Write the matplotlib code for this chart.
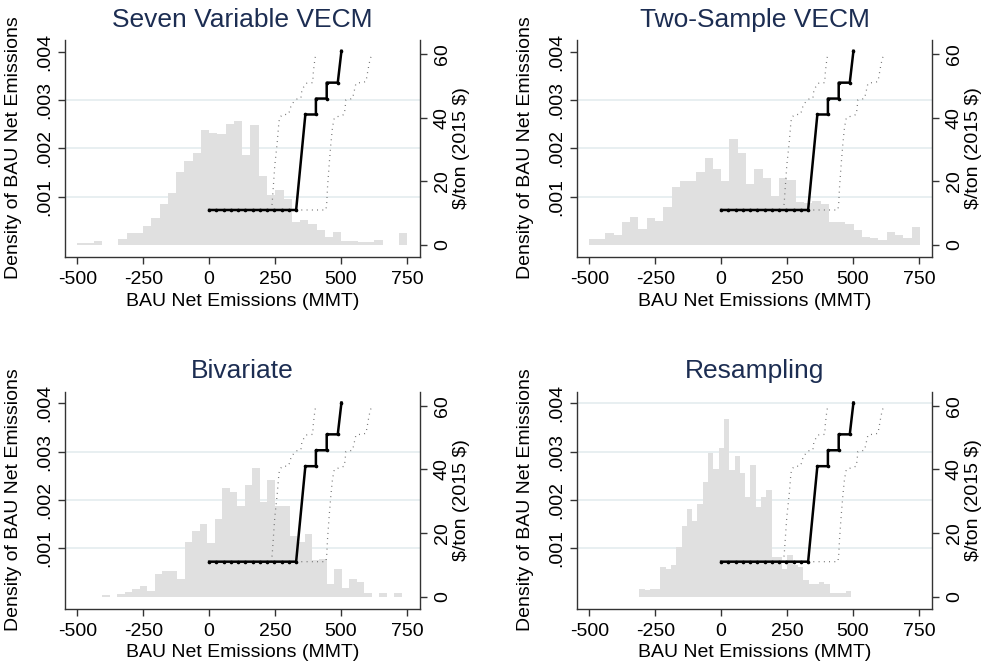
import numpy as np
import matplotlib
matplotlib.use("Agg")
import matplotlib.pyplot as plt

plt.rcParams['font.family'] = ['Liberation Sans', 'DejaVu Sans']

# ---------------- data ----------------
titles = ["Seven Variable VECM", "Two-Sample VECM", "Bivariate", "Resampling"]

# histogram bins (40 bins each): first edge and bin width (MMT)
hist_start = [-501.3, -502.5, -405.3, -310.6]
hist_width = [31.34, 31.41, 28.41, 20.07]

# densities (x 1e-3)
dens_seven = [0.048, 0.048, 0.083, 0.0, 0.0, 0.117, 0.248, 0.248, 0.40, 0.566,
              0.855, 1.076, 1.517, 1.738, 1.903, 2.386, 2.317, 2.290, 2.503, 2.572,
              1.869, 2.476, 1.434, 1.041, 1.138, 0.945, 0.469, 0.524, 0.441, 0.303,
              0.172, 0.276, 0.083, 0.083, 0.055, 0.055, 0.110, 0.0, 0.0, 0.242]
dens_twosample = [0.117, 0.117, 0.248, 0.214, 0.469, 0.586, 0.331, 0.559, 0.497, 0.779,
                  1.200, 1.324, 1.324, 1.517, 1.807, 1.579, 1.324, 2.193, 1.903, 1.262,
                  1.579, 1.393, 1.021, 1.393, 1.352, 0.883, 0.862, 0.910, 0.855, 0.469,
                  0.469, 0.434, 0.303, 0.172, 0.145, 0.110, 0.269, 0.214, 0.145, 0.366]
dens_bivariate = [0.034, 0.0, 0.048, 0.090, 0.152, 0.214, 0.124, 0.462, 0.538, 0.538,
                  0.366, 1.138, 1.352, 1.497, 1.103, 1.600, 2.241, 2.159, 1.883, 2.310,
                  2.655, 1.952, 2.414, 1.883, 1.883, 1.255, 1.138, 1.290, 0.759, 0.779,
                  0.262, 0.572, 0.172, 0.359, 0.303, 0.069, 0.0, 0.083, 0.0, 0.083]
dens_resampling = [0.166, 0.138, 0.166, 0.166, 0.614, 0.566, 0.662, 1.021, 1.469, 1.814,
                   1.572, 1.910, 2.366, 2.972, 2.641, 3.069, 3.669, 2.621, 2.910, 2.566,
                   2.062, 2.717, 1.862, 2.062, 2.214, 0.828, 0.828, 0.572, 0.862, 0.662,
                   0.607, 0.352, 0.262, 0.262, 0.310, 0.262, 0.069, 0.069, 0.069, 0.117]
densities = [dens_seven, dens_twosample, dens_bivariate, dens_resampling]

# price curve (median) and bounds: emissions (MMT) vs $/ton
main_x = [0, 27.5, 55, 82.5, 110, 137.5, 165, 192.5, 220, 247.5, 275, 302.5, 330,
          365, 405, 405, 446, 446, 488, 502]
main_p = [11, 11, 11, 11, 11, 11, 11, 11, 11, 11, 11, 11, 11,
          41, 41, 46, 46, 51, 51, 61]
low_x = [235, 239, 249, 258, 264, 267, 279, 300, 307, 311, 330, 348, 352, 367, 393, 395, 399, 405]
low_p = [11, 13, 25, 32, 38, 40, 41, 41, 42.4, 44, 45.8, 46.1, 48.7, 50.8, 51, 54, 57, 60.4]
up_x = [330, 443, 446, 449, 456, 462, 468, 475, 513, 519, 544, 557, 595, 607, 614]
up_p = [11, 11, 13, 18, 26, 32, 37, 40, 41, 45.6, 46, 50.8, 51.3, 57, 59.2]

xticks = [-500, -250, 0, 250, 500, 750]
dticks = [0.001, 0.002, 0.003, 0.004]
dtick_labels = [".001", ".002", ".003", ".004"]
pticks = [0, 20, 40, 60]

# ---------------- layout ----------------
W, H = 985, 664
fig = plt.figure(figsize=(W / 100, H / 100), dpi=100)
boxes = [(65, 40), (577, 40), (65, 391.7), (577, 391.7)]
aw, ah = 355, 217
FS = 14
TITLE_C = '#1c2d52'
AX_C = '#333333'
HIST_C = '#e0e0e0'
GRID_C = '#e6eef0'

for i in range(4):
    left, top = boxes[i]
    ax = fig.add_axes([left / W, 1 - (top + ah) / H, aw / W, ah / H])
    d = np.array(densities[i]) * 1e-3
    edges = hist_start[i] + hist_width[i] * np.arange(len(d) + 1)
    ax.stairs(d, edges, fill=True, color=HIST_C, linewidth=0, zorder=1)
    ax.set_xlim(-547, 800)
    ax.set_ylim(-0.000248, 0.00424)
    ax.set_xticks(xticks)
    ax.set_xticklabels([str(t) for t in xticks])
    ax.set_yticks(dticks)
    ax.set_yticklabels(dtick_labels)
    ax.set_axisbelow(True)
    ax.grid(axis='y', color=GRID_C, linewidth=1.3)
    ax.grid(axis='x', visible=False)
    if i != 3:
        ax.get_ygridlines()[3].set_visible(False)
    for s in ['top', 'right']:
        ax.spines[s].set_visible(False)
    for s in ['left', 'bottom']:
        ax.spines[s].set_color(AX_C)
        ax.spines[s].set_linewidth(1.0)
    ax.tick_params(axis='both', length=5, width=1.0, color=AX_C, labelsize=FS)
    ax.tick_params(axis='x', pad=5)
    ax.tick_params(axis='y', pad=3.5, labelrotation=90)
    for lab in ax.get_yticklabels():
        lab.set_va('center')
        lab.set_ha('right')

    ax2 = ax.twinx()
    ax2.set_ylim(-3.77, 64.4)
    ax2.set_yticks(pticks)
    ax2.set_yticklabels([str(t) for t in pticks])
    for s in ['top', 'left', 'bottom']:
        ax2.spines[s].set_visible(False)
    ax2.spines['right'].set_color(AX_C)
    ax2.spines['right'].set_linewidth(1.0)
    ax2.tick_params(axis='y', length=5, width=1.0, color=AX_C, labelsize=FS,
                    pad=5, labelrotation=90)
    for lab in ax2.get_yticklabels():
        lab.set_va('center')
        lab.set_ha('left')

    ax2.plot(low_x, low_p, color='#666666', linewidth=0.9,
             linestyle=(0, (0.7, 3.5)), zorder=3)
    ax2.plot(up_x, up_p, color='#666666', linewidth=0.9,
             linestyle=(0, (0.7, 3.5)), zorder=3)
    ax2.plot(main_x, main_p, color='black', linewidth=1.8, marker='o',
             markersize=1.6, zorder=4)

    # titles and axis titles
    ax.text(0.5, 1 + 13.3 / ah, titles[i], transform=ax.transAxes, ha='center',
            va='baseline', fontsize=19, color=TITLE_C)
    cx = left + aw / 2
    fig.text(cx / W, 1 - (top + 261) / H, 'BAU Net Emissions (MMT)', ha='center',
             va='center', fontsize=FS)
    fig.text((left - 51) / W, 1 - (top + 108) / H, 'Density of BAU Net Emissions',
             ha='center', va='center', rotation=90, fontsize=FS)
    fig.text((left + aw + 41) / W, 1 - (top + 108) / H, r'\$/ton (2015 \$)',
             ha='center', va='center', rotation=90, fontsize=FS)

fig.savefig('out.png', dpi=100, facecolor='white')
